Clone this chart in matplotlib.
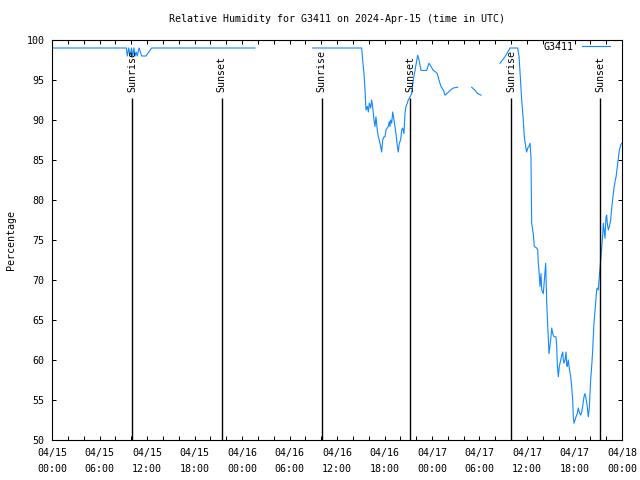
import numpy as np
import matplotlib
matplotlib.use("Agg")
import matplotlib.pyplot as plt
from matplotlib.ticker import MultipleLocator, FuncFormatter

nan = np.nan

# hours after 2024-04-15 00:00 UTC, nan marks a gap in the record
hours = [0.0, 9.40, 9.51, 9.70, 9.85, 10.05, 10.19, 10.35, 10.48, 10.62, 10.77, 11.00,
         11.33, 11.87, 12.59, 25.64, 26.0,
         32.9, 39.12, 39.24, 39.41, 39.54, 39.66, 39.83, 39.96, 40.08, 40.25, 40.38,
         40.50, 40.67, 40.80, 40.92, 41.09, 41.22, 41.34, 41.51, 41.64, 41.77, 41.93,
         42.06, 42.19, 42.36, 42.48, 42.60, 42.69, 42.78, 42.91, 43.03, 43.20, 43.32,
         43.45, 43.62, 43.74, 43.87, 44.04, 44.17, 44.30, 44.46, 44.59, 44.71, 44.88,
         45.00, 45.13, 45.43, 45.64, 45.94, 46.19, 46.36, 46.61, 46.90, 47.33, 47.62,
         47.87, 48.16, 48.47, 48.67, 48.88, 49.13, 49.43, 49.64, 49.98, 50.27, 50.69,
         51.24, 52.0,
         53.01, 53.43, 53.77, 54.19, 55.0,
         56.59, 57.22, 57.85, 58.27, 58.82, 59.00, 59.13, 59.33, 59.53, 59.66, 59.83,
         59.96, 60.09, 60.25, 60.38, 60.50, 60.54, 60.59, 60.79, 60.92, 61.22, 61.35,
         61.42, 61.51, 61.64, 61.77, 61.86, 62.06, 62.19, 62.36, 62.49, 62.62, 62.78,
         62.99, 63.12, 63.25, 63.41, 63.66, 63.75, 63.83, 63.96, 64.08, 64.26, 64.39,
         64.51, 64.59, 64.67, 64.80, 64.93, 65.01, 65.09, 65.21, 65.34, 65.52, 65.64,
         65.77, 65.85, 65.94, 66.06, 66.19, 66.35, 66.48, 66.60, 66.78, 66.91, 67.03,
         67.20, 67.32, 67.45, 67.61, 67.74, 67.87, 67.96, 68.04, 68.17, 68.30, 68.37,
         68.46, 68.59, 68.71, 68.80, 68.88, 69.00, 69.13, 69.31, 69.44, 69.56, 69.64,
         69.73, 69.85, 69.98, 70.07, 70.14, 70.27, 70.40, 70.57, 70.70, 70.83, 70.99,
         71.12, 71.25, 71.41, 71.54, 71.67, 71.85, 71.97]

rh = [99, 99, 98, 99, 98, 99, 98, 99, 98, 98.5, 98, 99,
      98, 98, 99, 99, nan,
      99, 99, 97.5, 95.8, 93.75, 91.25, 91.7, 91.0, 92.1, 91.5, 92.5,
      91.7, 90.0, 89.2, 90.4, 88.75, 87.9, 87.5, 86.7, 86.0, 87.5, 87.9,
      87.9, 88.75, 89.0, 89.2, 89.8, 89.2, 90.0, 89.6, 91.0, 90.0, 89.2,
      88.3, 86.7, 86.0, 87.1, 87.5, 88.75, 89.0, 88.3, 90.8, 91.7, 92.1,
      92.5, 92.7, 93.3, 95.0, 96.7, 98.1, 97.5, 96.2, 96.2, 96.2, 97.1,
      96.7, 96.2, 96.0, 95.8, 95.0, 94.2, 93.75, 93.1, 93.4, 93.7, 94.0,
      94.1, nan,
      94.1, 93.7, 93.3, 93.1, nan,
      97.1, 97.9, 99.0, 99.0, 99.0, 97.9, 95.8, 92.5, 90.0, 87.9, 86.7,
      86.0, 86.5, 86.7, 87.1, 85.4, 82.1, 77.1, 75.8, 74.2, 74.0, 73.75,
      72.1, 71.25, 69.2, 70.8, 68.75, 68.3, 70.0, 72.1, 67.1, 64.2, 60.8,
      62.5, 64.0, 63.3, 62.9, 62.9, 61.7, 59.4, 57.9, 59.2, 60.0, 60.6,
      61.0, 60.0, 59.6, 60.0, 61.0, 59.4, 59.2, 60.0, 59.0, 57.9, 56.7,
      55.0, 52.9, 52.1, 52.5, 52.9, 53.3, 54.0, 53.5, 53.1, 53.5, 54.2,
      55.4, 55.8, 55.2, 54.2, 52.9, 54.0, 55.8, 57.5, 59.2, 61.25, 62.9,
      64.6, 66.25, 67.9, 68.75, 69.0, 68.75, 70.4, 72.5, 74.2, 75.6, 77.1,
      76.25, 75.2, 77.9, 78.1, 77.1, 76.25, 76.7, 77.5, 79.0, 80.2, 81.5,
      82.3, 82.9, 84.2, 85.2, 86.25, 86.9, 87.1]

sun_hours = [10.14, 21.43, 34.07, 45.22, 57.98, 69.22]
sun_labels = ["Sunrise", "Sunset", "Sunrise", "Sunset", "Sunrise", "Sunset"]
days = ["04/15", "04/16", "04/17", "04/18"]

plt.rcParams["font.family"] = "DejaVu Sans Mono"
plt.rcParams["font.size"] = 7.2

fig = plt.figure(figsize=(6.4, 4.8), dpi=100)
ax = fig.add_axes([52 / 640, 40 / 480, 570 / 640, 400 / 480])

ax.plot(hours, rh, color="#1088ff", lw=0.8, label="G3411")
ax.vlines(sun_hours, 50, 92.75, color="black", lw=1)
for h, lab in zip(sun_hours, sun_labels):
    ax.text(h, 93.5, lab, rotation=90, ha="center", va="bottom")

ax.set_xlim(0, 72)
ax.set_ylim(50, 100)
ax.xaxis.set_major_locator(MultipleLocator(6))
ax.xaxis.set_minor_locator(MultipleLocator(2))
ax.xaxis.set_major_formatter(FuncFormatter(
    lambda h, pos: "%s\n%02d:00" % (days[int(round(h)) // 24], int(round(h)) % 24)))
ax.yaxis.set_major_locator(MultipleLocator(5))
ax.tick_params(which="both", direction="in", top=True, right=True,
               length=3, width=0.72)
ax.tick_params(axis="x", pad=5.5)
ax.tick_params(axis="y", pad=5.5)
plt.setp(ax.get_xticklabels(), linespacing=1.75)
for s in ax.spines.values():
    s.set_linewidth(0.8)

fig.text(337 / 640, 1 - 19 / 480,
         "Relative Humidity for G3411 on 2024-Apr-15 (time in UTC)",
         ha="center", va="center")
fig.text(11 / 640, 0.5, "Percentage", rotation=90, ha="center", va="center")

ax.legend(loc="upper right", bbox_to_anchor=(0.979, 0.995), frameon=False,
          markerfirst=False, borderpad=0, borderaxespad=0,
          handlelength=2.8, handletextpad=0.9)

fig.savefig("out.png", dpi=100)
